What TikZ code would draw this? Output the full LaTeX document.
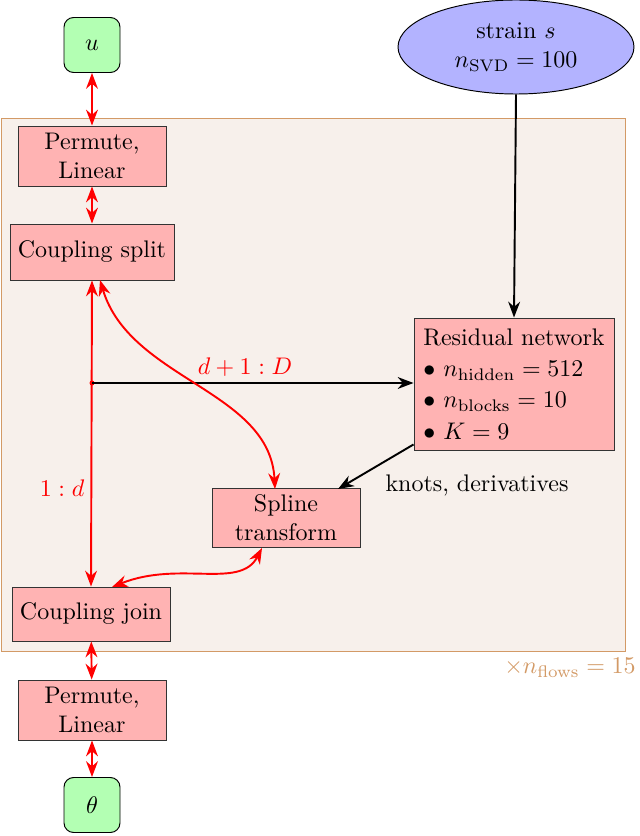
\documentclass[tikz,border=0pt]{standalone}
\usetikzlibrary{shapes.geometric,arrows.meta}
\definecolor{bgfill}{HTML}{F7F0EB}
\definecolor{bgline}{HTML}{D39A66}
\definecolor{boxred}{HTML}{FFB3B3}
\definecolor{boxgreen}{HTML}{B3FFB3}
\definecolor{ellblue}{HTML}{B3B3FF}
\begin{document}
\begin{tikzpicture}[x=0.4167pt,y=-0.4167pt,
  proc/.style={draw=black!80,fill=boxred,align=center,inner sep=0pt},
  term/.style={draw=black,fill=boxgreen,rounded corners=4pt,minimum width=56*0.4167pt,minimum height=55*0.4167pt,inner sep=0pt},
  rarr/.style={red,thick,{Stealth}-{Stealth}},
  barr/.style={black,thick,-{Stealth}}]
\useasboundingbox (0,0) rectangle (640,836);
\fill[bgfill,draw=bgline] (1,118) rectangle (625,651);
\node[term] (u) at (92,45) {$u$};
\node[term] (th) at (92,805) {$\theta$};
\node[proc,minimum width=148*0.4167pt,minimum height=60*0.4167pt] (p1) at (92,156) {Permute,\\Linear};
\node[proc,minimum width=164*0.4167pt,minimum height=56*0.4167pt] (cs) at (92,252) {Coupling split};
\node[proc,minimum width=158*0.4167pt,minimum height=54*0.4167pt] (cj) at (91,614) {Coupling join};
\node[proc,minimum width=148*0.4167pt,minimum height=60*0.4167pt] (p2) at (92,710) {Permute,\\Linear};
\node[proc,minimum width=148*0.4167pt,minimum height=59*0.4167pt] (sp) at (286,518) {Spline\\transform};
\node[proc,minimum width=200*0.4167pt,minimum height=132*0.4167pt,align=left] (rn) at (514,384) {Residual network\\[1pt]
  $\bullet$ $n_{\mathrm{hidden}}=512$\\[1pt] $\bullet$ $n_{\mathrm{blocks}}=10$\\[1pt] $\bullet$ $K=9$};
\node[ellipse,draw=black,fill=ellblue,minimum width=236*0.4167pt,minimum height=94*0.4167pt,align=center,inner sep=0pt] (st) at (516,47) {strain $s$\\$n_{\mathrm{SVD}}=100$};
\draw[rarr] (u) -- (p1);
\draw[rarr] (p1) -- (cs);
\draw[rarr] (cj) -- (p2);
\draw[rarr] (p2) -- (th);
\draw[rarr] (cs.south) -- (cj.north);
\coordinate (dot) at (92,383);
\fill[red] (dot) circle (2.5);
\draw[barr] (dot) -- (rn.west |- dot);
\node[red] (lab1) at (245,367) {$d+1:D$};
\node[red] (lab2) at (62,488) {$1:d$};
\draw[barr] (st.south) -- (rn.north);
\draw[barr] (rn.south west) ++(0,-6) coordinate (rs) (rs) -- (338,489) coordinate (spt);
\node (kn) at (477,485) {knots, derivatives};
\draw[rarr] (100,280) .. controls (130,380) and (270,390) .. (275,489);
\draw[rarr] (262,548) .. controls (240,590) and (180,560) .. (112,587);
\node[bgline] (nf) at (570,668) {$\times n_{\mathrm{flows}}=15$};
\end{tikzpicture}
\end{document}
